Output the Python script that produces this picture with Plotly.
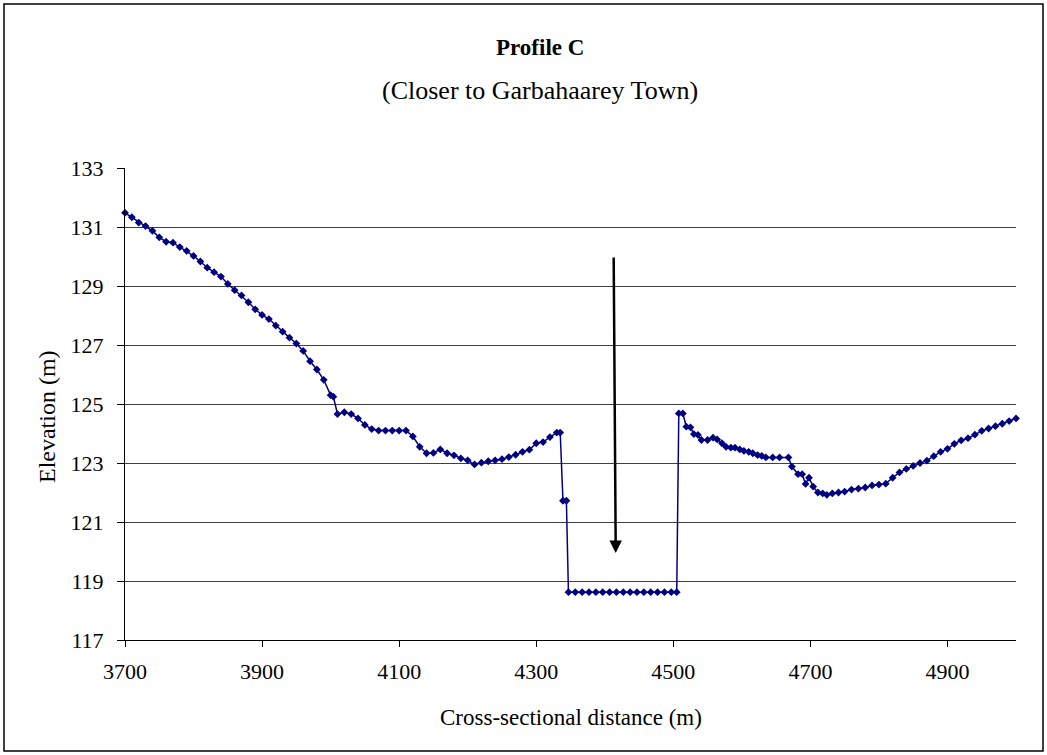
import plotly.graph_objects as go

# cross-section stations (m) and ground elevation (m)
distance = [
    3700, 3710, 3720, 3730, 3740, 3750, 3760, 3770, 3780, 3790,
    3800, 3810, 3820, 3830, 3840, 3850, 3860, 3870, 3880, 3890,
    3900, 3910, 3920, 3930, 3940, 3950, 3960, 3970, 3980, 3990,
    4000, 4004, 4010, 4020, 4030, 4040, 4050, 4060, 4070, 4080, 4090,
    4100, 4110, 4120, 4130, 4140, 4150, 4160, 4170, 4180, 4190,
    4200, 4210, 4220, 4230, 4240, 4250, 4260, 4270, 4280, 4290,
    4300, 4310, 4320, 4330, 4335, 4339, 4344, 4347,
    4357, 4367, 4377, 4387, 4397, 4407, 4417, 4427, 4437, 4447,
    4457, 4467, 4477, 4487, 4497, 4505,
    4508, 4514, 4519, 4525, 4530, 4536, 4541, 4550, 4558, 4564,
    4571, 4577, 4584, 4590, 4597, 4603, 4610, 4616, 4623, 4629,
    4635, 4645, 4655, 4668, 4673, 4682, 4688, 4693, 4698, 4704,
    4711, 4718, 4724, 4732, 4741, 4750, 4760, 4770, 4780, 4790,
    4800, 4810, 4820, 4830, 4840, 4850, 4860, 4870, 4880, 4890,
    4900, 4910, 4920, 4930, 4940, 4950, 4960, 4970, 4980, 4990, 5000,
]
elevation = [
    131.48, 131.33, 131.15, 131.03, 130.87, 130.65, 130.50, 130.47, 130.32, 130.19,
    130.02, 129.83, 129.62, 129.47, 129.32, 129.07, 128.86, 128.68, 128.45, 128.21,
    128.02, 127.88, 127.66, 127.45, 127.25, 127.05, 126.80, 126.45, 126.17, 125.82,
    125.30, 125.25, 124.66, 124.72, 124.66, 124.51, 124.29, 124.15, 124.10, 124.10, 124.10,
    124.10, 124.10, 123.90, 123.55, 123.33, 123.34, 123.46, 123.33, 123.26, 123.16,
    123.09, 122.95, 123.01, 123.06, 123.09, 123.13, 123.20, 123.28, 123.38, 123.45,
    123.67, 123.71, 123.88, 124.03, 124.03, 121.72, 121.72, 118.62,
    118.62, 118.62, 118.62, 118.62, 118.62, 118.62, 118.62, 118.62, 118.62, 118.62,
    118.62, 118.62, 118.62, 118.62, 118.62, 118.62,
    124.68, 124.68, 124.23, 124.21, 123.98, 123.95, 123.78, 123.78, 123.86, 123.80,
    123.67, 123.55, 123.52, 123.52, 123.46, 123.41, 123.38, 123.33, 123.27, 123.24,
    123.19, 123.19, 123.19, 123.19, 122.88, 122.62, 122.62, 122.29, 122.50, 122.20,
    122.00, 121.97, 121.92, 121.97, 122.00, 122.03, 122.10, 122.13, 122.17, 122.24,
    122.27, 122.30, 122.50, 122.68, 122.80, 122.90, 123.00, 123.08, 123.23, 123.38,
    123.48, 123.65, 123.77, 123.84, 123.96, 124.09, 124.17, 124.25, 124.33, 124.42, 124.51,
]
x_ticks = [3700, 3900, 4100, 4300, 4500, 4700, 4900]
y_ticks = [117, 119, 121, 123, 125, 127, 129, 131, 133]

# arrow pointing into the channel
arrow_x = [4413, 4416]
arrow_y = [130.02, 119.95]

SERIF = "Liberation Serif, Times New Roman, serif"
NAVY = "#000080"

fig = go.Figure()
fig.add_trace(
    go.Scatter(
        x=distance,
        y=elevation,
        mode="lines+markers",
        line=dict(color=NAVY, width=1.5),
        marker=dict(symbol="diamond", size=6, color=NAVY),
        cliponaxis=False,
        showlegend=False,
    )
)

fig.update_xaxes(
    range=[3700, 5000],
    tickvals=x_ticks,
    ticks="outside",
    ticklen=6,
    tickcolor="black",
    showline=True,
    linecolor="black",
    linewidth=1,
    showgrid=False,
    zeroline=False,
    tickfont=dict(family=SERIF, size=22, color="black"),
    ticklabelstandoff=6,
)
fig.update_yaxes(
    range=[117, 133],
    tickvals=y_ticks,
    ticks="outside",
    ticklen=7,
    tickcolor="black",
    showline=True,
    linecolor="black",
    linewidth=1,
    showgrid=True,
    gridcolor="#404040",
    gridwidth=1,
    zeroline=False,
    tickfont=dict(family=SERIF, size=22, color="black"),
    ticklabelstandoff=9,
)

fig.add_annotation(
    x=arrow_x[1], y=arrow_y[1], ax=arrow_x[0], ay=arrow_y[0],
    xref="x", yref="y", axref="x", ayref="y",
    showarrow=True, arrowhead=2, arrowsize=1, arrowwidth=2.5, arrowcolor="black",
    text="",
)

labels = [
    ("<b>Profile C</b>", 0.466, 1.256, 0, 23),
    ("(Closer to Garbahaarey Town)", 0.466, 1.165, 0, 26),
    ("Elevation (m)", -0.0875, 0.4725, -90, 24),
    ("Cross-sectional distance (m)", 0.5006, -0.165, 0, 23),
]
for text, x, y, angle, size in labels:
    fig.add_annotation(
        text=text, x=x, y=y, xref="paper", yref="paper",
        xanchor="center", yanchor="middle", textangle=angle,
        showarrow=False, font=dict(family=SERIF, size=size, color="black"),
    )

# outer chart border
fig.add_shape(
    type="rect", xref="paper", yref="paper",
    x0=-0.1358, x1=1.0303, y0=-0.2352, y1=1.3475,
    line=dict(color="black", width=1.5),
)

fig.update_layout(
    width=1047,
    height=755,
    margin=dict(l=125, r=31, t=168, b=115),
    paper_bgcolor="white",
    plot_bgcolor="white",
    font=dict(family=SERIF, color="black"),
)

fig.write_html(
    "out.html",
    config={"displayModeBar": False},
    post_script="document.body.style.margin='0';",
)
